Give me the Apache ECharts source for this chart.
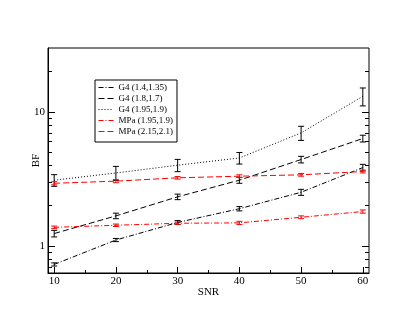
<!DOCTYPE html>
<html>
<head>
<meta charset="UTF-8"/>
<script src="https://cdn.jsdelivr.net/npm/echarts@6/dist/echarts.min.js"></script>
<style>
    html, body { margin: 0; padding: 0; background: #fff; }
    #main { width: 415px; height: 321px; }
</style>
</head>
<body>
<div id="main"></div>
<script>
    // SNR values (x)
    var snr = [10, 20, 30, 40, 50, 60];
    var names = ['G4 (1.4,1.35)', 'G4 (1.8,1.7)', 'G4 (1.95,1.9)', 'MPa (1.95,1.9)', 'MPa (2.15,2.1)'];

    // BF values and error half-widths
    var g4a = [0.73, 1.11, 1.50, 1.90, 2.52, 3.85];
    var g4aErr = [0.02, 0.03, 0.05, 0.07, 0.13, 0.22];
    var g4b = [1.24, 1.68, 2.33, 3.10, 4.42, 6.34];
    var g4bErr = [0.07, 0.08, 0.11, 0.16, 0.25, 0.37];
    var g4c = [3.10, 3.51, 4.01, 4.54, 6.98, 13.1];
    var g4cErr = [0.31, 0.42, 0.42, 0.45, 0.84, 2.0];
    var mpa = [1.38, 1.43, 1.48, 1.49, 1.64, 1.81];
    var mpaErr = [0.03, 0.03, 0.03, 0.04, 0.04, 0.05];
    var mpb = [2.94, 3.05, 3.23, 3.32, 3.40, 3.60];
    var mpbErr = [0.08, 0.08, 0.07, 0.08, 0.08, 0.09];

    // ticks
    var xMajor = [10, 20, 30, 40, 50, 60];
    var xMinor = [15, 25, 35, 45, 55];
    var yMajor = [1, 10];
    var yMinor = [0.7, 0.8, 0.9, 2, 3, 4, 5, 6, 7, 8, 9, 20];

    var font = 'Liberation Serif';
    var yMin = 0.63, yMax = 30;

    var dashDot = [5, 2, 1, 2];
    var dashed = [6, 3];
    var dotted = [1, 2];

    var lines = [
        {v: g4a, e: g4aErr, color: '#000', dash: dashDot},
        {v: g4b, e: g4bErr, color: '#000', dash: dashed},
        {v: g4c, e: g4cErr, color: '#000', dash: dotted},
        {v: mpa, e: mpaErr, color: '#f00', dash: dashDot},
        {v: mpb, e: mpbErr, color: '#f00', dash: dashed}
    ];

    function errRender(color) {
        return function (params, api) {
            var x = api.value(0), y = api.value(1), e = api.value(2);
            var lo = api.coord([x, y - e]);
            var hi = api.coord([x, y + e]);
            var w = 3;
            var st = {stroke: color, lineWidth: 1};
            return {
                type: 'group',
                children: [
                    {type: 'line', shape: {x1: lo[0], y1: lo[1], x2: hi[0], y2: hi[1]}, style: st},
                    {type: 'line', shape: {x1: lo[0] - w, y1: lo[1], x2: lo[0] + w, y2: lo[1]}, style: st},
                    {type: 'line', shape: {x1: hi[0] - w, y1: hi[1], x2: hi[0] + w, y2: hi[1]}, style: st}
                ]
            };
        };
    }

    var series = [];
    var legendData = [];
    lines.forEach(function (l, i) {
        series.push({
            name: names[i],
            type: 'line',
            data: snr.map(function (x, j) { return [x, l.v[j]]; }),
            symbol: 'none',
            lineStyle: {color: l.color, width: 1, type: l.dash},
            itemStyle: {color: l.color},
            animation: false
        });
        series.push({
            name: 'err' + i,
            type: 'custom',
            data: snr.map(function (x, j) { return [x, l.v[j], l.e[j]]; }),
            renderItem: errRender(l.color),
            animation: false,
            z: 3
        });
        legendData.push({
            name: names[i],
            itemStyle: {color: 'transparent', borderWidth: 0, opacity: 0},
            lineStyle: {color: l.color, width: 1, type: l.dash}
        });
    });

    var tickLine = {color: '#000', width: 1};

    var option = {
        backgroundColor: '#fff',
        animation: false,
        grid: {left: 48, right: 46, top: 48, bottom: 48, show: true, borderColor: '#000', borderWidth: 1},
        legend: {
            data: legendData,
            orient: 'vertical',
            left: 95, top: 80,
            itemWidth: 15, itemHeight: 9, itemGap: 2,
            padding: [3, 4, 6, 3],
            borderColor: '#000', borderWidth: 1, borderRadius: 0,
            textStyle: {fontFamily: font, fontSize: 9, lineHeight: 9, color: '#000'}
        },
        xAxis: [{
            type: 'value', min: 9, max: 61, position: 'bottom',
            name: 'SNR', nameLocation: 'middle', nameGap: 14, nameMoveOverlap: false,
            nameTextStyle: {fontFamily: font, fontSize: 11, color: '#000'},
            axisLine: {lineStyle: tickLine},
            axisTick: {inside: true, length: 6, lineStyle: tickLine, customValues: xMajor},
            axisLabel: {fontFamily: font, fontSize: 11, color: '#000', margin: 3, customValues: xMajor},
            splitLine: {show: false}
        }, {
            type: 'value', min: 9, max: 61, position: 'bottom',
            axisLine: {show: false},
            axisTick: {inside: true, length: 3, lineStyle: tickLine, customValues: xMinor},
            axisLabel: {show: false},
            splitLine: {show: false}
        }],
        yAxis: [{
            type: 'log', min: yMin, max: yMax, position: 'left',
            name: 'BF', nameLocation: 'middle', nameGap: 6, nameMoveOverlap: false,
            nameTextStyle: {fontFamily: font, fontSize: 11, color: '#000'},
            axisLine: {show: true, lineStyle: tickLine},
            axisTick: {inside: true, length: 7, lineStyle: tickLine, customValues: yMajor},
            axisLabel: {fontFamily: font, fontSize: 11, color: '#000', margin: 3, customValues: yMajor},
            splitLine: {show: false}
        }, {
            type: 'log', min: yMin, max: yMax, position: 'left',
            axisLine: {show: false},
            axisTick: {inside: true, length: 4, lineStyle: tickLine, customValues: yMinor},
            axisLabel: {show: false},
            splitLine: {show: false}
        }, {
            type: 'log', min: yMin, max: yMax, position: 'right',
            axisLine: {show: false},
            axisTick: {inside: true, length: 7, lineStyle: tickLine, customValues: yMajor},
            axisLabel: {show: false},
            splitLine: {show: false}
        }, {
            type: 'log', min: yMin, max: yMax, position: 'right',
            axisLine: {show: false},
            axisTick: {inside: true, length: 4, lineStyle: tickLine, customValues: yMinor},
            axisLabel: {show: false},
            splitLine: {show: false}
        }],
        series: series
    };

    var chart = echarts.init(document.getElementById('main'), null, {renderer: 'canvas'});
    chart.setOption(option);
</script>
</body>
</html>
